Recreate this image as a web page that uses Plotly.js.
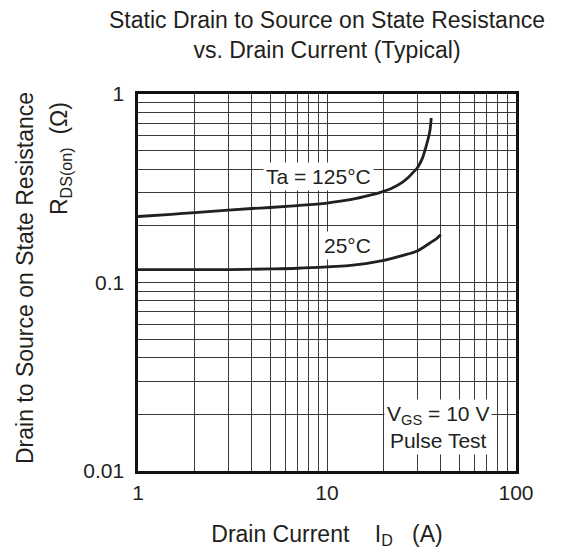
<!DOCTYPE html>
<html>
<head>
<meta charset="utf-8">
<script src="https://cdn.plot.ly/plotly-3.0.1.min.js"></script>
<style>html,body{margin:0;padding:0;background:#fff;}#chart{width:562px;height:554px;}</style>
</head>
<body>
<div id="chart"></div>
<script>
// Drain current I_D (A) and R_DS(on) (ohm)
const current125 = [1, 1.5, 2, 3, 4, 5, 7, 10, 13, 16, 19, 22, 25, 27, 29, 30, 31, 32, 33, 34, 35, 35.6];
const rds125     = [0.224, 0.230, 0.235, 0.242, 0.247, 0.250, 0.256, 0.264, 0.274, 0.287, 0.300, 0.316, 0.340, 0.362, 0.390, 0.405, 0.428, 0.457, 0.503, 0.560, 0.634, 0.746];
const current25  = [1, 2, 3, 5, 7, 10, 13, 16, 20, 25, 30, 35, 38, 40];
const rds25      = [0.117, 0.117, 0.117, 0.118, 0.119, 0.121, 0.123, 0.126, 0.131, 0.139, 0.147, 0.162, 0.171, 0.179];

const xTickVals = [1, 10, 100];
const xTickText = ['1', '10', '100'];
const xMinorVals = [2,3,4,5,6,7,8,9,20,30,40,50,60,70,80,90];
const yTickVals = [0.01, 0.1, 1];
const yTickText = ['0.01', '0.1', '1'];
const yMinorVals = [0.02,0.03,0.04,0.05,0.06,0.07,0.08,0.09,0.2,0.3,0.4,0.5,0.6,0.7,0.8,0.9];

const labels = [
  {text: 'Ta = 125°C', x: 9.05, y: 0.364},
  {text: '25°C', x: 12.8, y: 0.157},
  {text: 'V<sub>GS</sub> = 10 V<br>Pulse Test', x: 38.6, y: 0.0172}
];
const yTitleLine1 = 'Drain to Source on State Resistance';
const yTitleLine2 = 'R<sub>DS(on)</sub>  (Ω)';

const FONT = 'Liberation Sans, Arial, Helvetica, sans-serif';
const INK = '#231f20';
const GRID = '#3a3a3a';

const traces = [
  {x: current125, y: rds125, mode: 'lines', line: {color: INK, width: 2.8, shape: 'spline', smoothing: 1}, hoverinfo: 'skip', showlegend: false},
  {x: current25, y: rds25, mode: 'lines', line: {color: INK, width: 2.8, shape: 'spline', smoothing: 1}, hoverinfo: 'skip', showlegend: false}
];

const L = 138, R = 46, T = 94, B = 83, W = 562, H = 554;
const pw = W - L - R, ph = H - T - B;
const px2paperX = p => (p - L) / pw;
const px2paperY = p => (H - B - p) / ph;

const annotations = labels.map(l => ({
  text: l.text, x: Math.log10(l.x), y: Math.log10(l.y), xref: 'x', yref: 'y',
  showarrow: false, bgcolor: '#fff', borderpad: 2,
  font: {family: FONT, size: 21, color: INK}
}));
annotations.push({
  text: yTitleLine1, textangle: -90, xref: 'paper', yref: 'paper',
  x: px2paperX(25), y: px2paperY(278), xanchor: 'center', yanchor: 'middle',
  showarrow: false, font: {family: FONT, size: 23, color: INK}
});
annotations.push({
  text: yTitleLine2, textangle: -90, xref: 'paper', yref: 'paper',
  x: px2paperX(60), y: px2paperY(159), xanchor: 'center', yanchor: 'middle',
  showarrow: false, font: {family: FONT, size: 23, color: INK}
});

const layout = {
  width: W, height: H,
  margin: {l: L, r: R, t: T, b: B},
  paper_bgcolor: '#fff', plot_bgcolor: '#fff',
  font: {family: FONT, color: INK, size: 21},
  title: {
    text: 'Static Drain to Source on State Resistance<br>vs. Drain Current (Typical)',
    x: 0.5, xanchor: 'center', xref: 'paper',
    y: 0.95, yanchor: 'top', yref: 'container',
    font: {family: FONT, size: 23, color: INK}
  },
  xaxis: {
    type: 'log', range: [0, 2],
    tickmode: 'array', tickvals: xTickVals, ticktext: xTickText,
    showgrid: true, gridcolor: GRID, gridwidth: 1,
    minor: {tickmode: 'array', tickvals: xMinorVals, showgrid: true, gridcolor: GRID, gridwidth: 1, ticks: ''},
    ticks: '', ticklabelstandoff: 1,
    showline: true, linecolor: '#111', linewidth: 2.6, mirror: true,
    zeroline: false,
    tickfont: {family: FONT, size: 21, color: INK},
    title: {text: 'Drain Current    I<sub>D</sub>   (A)', font: {family: FONT, size: 23, color: INK}, standoff: 23}
  },
  yaxis: {
    type: 'log', range: [-2, 0],
    tickmode: 'array', tickvals: yTickVals, ticktext: yTickText,
    showgrid: true, gridcolor: GRID, gridwidth: 1,
    minor: {tickmode: 'array', tickvals: yMinorVals, showgrid: true, gridcolor: GRID, gridwidth: 1, ticks: ''},
    ticks: '', ticklabelstandoff: 7,
    showline: true, linecolor: '#111', linewidth: 2.6, mirror: true,
    zeroline: false,
    tickfont: {family: FONT, size: 21, color: INK}
  },
  annotations: annotations
};

Plotly.newPlot('chart', traces, layout, {staticPlot: true, displayModeBar: false});
</script>
</body>
</html>
